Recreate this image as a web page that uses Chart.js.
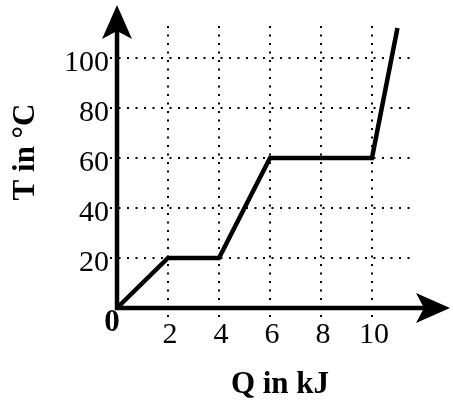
<!DOCTYPE html>
<html>
<head>
<meta charset="utf-8">
<script src="https://cdn.jsdelivr.net/npm/chart.js@4"></script>
<style>
  body { margin: 0; background: #fff; }
  #wrap { width: 453px; height: 402px; position: relative; }
</style>
</head>
<body>
<div id="wrap"><canvas id="chart"></canvas></div>
<script>
// heat added vs temperature
const heatKJ = [0, 2, 4, 6, 10, 11];
const tempC = [0, 20, 20, 60, 60, 112];
const xTicks = [2, 4, 6, 8, 10];
const yTicks = [20, 40, 60, 80, 100];
const xTitle = "Q in kJ";
const yTitle = "T in °C";

const serif = "'Liberation Serif', 'DejaVu Serif', serif";

function arrowHead(c, tip, dir) {
  // dir: 'up' or 'right'
  c.beginPath();
  if (dir === 'up') {
    c.moveTo(tip.x, tip.y);
    c.lineTo(tip.x - 15, tip.y + 34);
    c.lineTo(tip.x, tip.y + 26);
    c.lineTo(tip.x + 15, tip.y + 34);
  } else {
    c.moveTo(tip.x, tip.y);
    c.lineTo(tip.x - 34, tip.y - 15);
    c.lineTo(tip.x - 26, tip.y);
    c.lineTo(tip.x - 34, tip.y + 15);
  }
  c.closePath();
  c.fill();
}

// axes with arrows, origin label and axis titles
const axesPlugin = {
  id: 'axes',
  afterDatasetsDraw(chart) {
    const c = chart.ctx;
    const xs = chart.scales.x, ys = chart.scales.y;
    const x0 = xs.getPixelForValue(0), y0 = ys.getPixelForValue(0);
    c.save();
    c.strokeStyle = '#000';
    c.fillStyle = '#000';
    c.lineWidth = 4.5;
    c.beginPath();
    c.moveTo(x0, y0 + 2);
    c.lineTo(x0, 20);
    c.moveTo(x0 - 2, y0);
    c.lineTo(430, y0);
    c.stroke();
    arrowHead(c, {x: x0, y: 5}, 'up');
    arrowHead(c, {x: 450, y: y0}, 'right');

    c.font = "bold 31px " + serif;
    c.textAlign = 'center';
    c.textBaseline = 'middle';
    c.fillText('0', x0 - 5, y0 + 15);

    c.fillText(xTitle, 280, 385);
    c.translate(26, 152);
    c.rotate(-Math.PI / 2);
    c.fillText(yTitle, 0, 0);
    c.restore();
  }
};

const ctx = document.getElementById('chart');
new Chart(ctx, {
  type: 'line',
  data: {
    labels: heatKJ,
    datasets: [{
      data: heatKJ.map((q, k) => ({x: q, y: tempC[k]})),
      borderColor: '#000',
      borderWidth: 4.5,
      borderJoinStyle: 'miter',
      pointRadius: 0,
      tension: 0,
      clip: false
    }]
  },
  options: {
    responsive: true,
    maintainAspectRatio: false,
    animation: false,
    layout: { padding: { left: 0, top: 26, right: 41, bottom: 0 } },
    plugins: { legend: { display: false }, tooltip: { enabled: false } },
    scales: {
      x: {
        type: 'linear',
        min: -0.275,
        max: 11.57,
        afterFit(s) { s.height = 85; },
        afterBuildTicks(s) { s.ticks = xTicks.map(v => ({value: v})); },
        grid: { color: '#000', lineWidth: 2, drawTicks: false },
        border: { display: false, dash: [2, 6.5] },
        ticks: {
          color: '#000',
          font: { family: serif, size: 30 },
          padding: 0,
          labelOffset: 2,
          maxRotation: 0,
          autoSkip: false
        }
      },
      y: {
        type: 'linear',
        min: -3.6,
        max: 112.8,
        afterFit(s) { s.width = 110; },
        afterBuildTicks(s) { s.ticks = yTicks.map(v => ({value: v})); },
        grid: { color: '#000', lineWidth: 2, drawTicks: false },
        border: { display: false, dash: [2, 6.5] },
        ticks: {
          color: '#000',
          font: { family: serif, size: 30 },
          padding: 1,
          labelOffset: 5,
          autoSkip: false
        }
      }
    }
  },
  plugins: [axesPlugin]
});
</script>
</body>
</html>
